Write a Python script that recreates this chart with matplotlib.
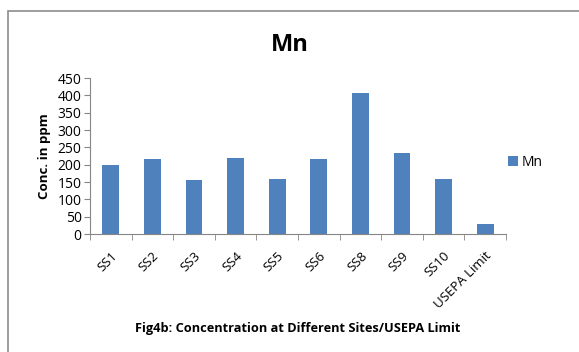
import matplotlib
matplotlib.use('Agg')
import matplotlib.pyplot as plt
import numpy as np
from matplotlib.patches import Rectangle

sites = ['SS1', 'SS2', 'SS3', 'SS4', 'SS5', 'SS6', 'SS8', 'SS9', 'SS10', 'USEPA Limit']
mn = [198, 217, 156, 219, 158, 217, 406, 234, 160, 28]
yticks = [0, 50, 100, 150, 200, 250, 300, 350, 400, 450]

plt.rcParams['font.family'] = ['Open Sans', 'DejaVu Sans']

fig = plt.figure(figsize=(5.79, 3.52), dpi=100)
ax = fig.add_axes([0.1554, 0.3352, 0.7185, 0.4432])

x = np.arange(len(sites))
ax.bar(x, mn, width=0.4, color='#4F81BD', label='Mn')

ax.set_xlim(-0.5, len(sites) - 0.5)
ax.set_ylim(0, 450)
ax.set_yticks(yticks)
ax.set_xticks(x)
ax.set_xticklabels(sites, rotation=45, ha='right', rotation_mode='anchor', fontsize=9.5)
ax.set_xticks(np.arange(-0.5, len(sites)), minor=True)
ax.tick_params(axis='x', which='major', length=0, pad=11)
ax.tick_params(axis='x', which='minor', length=4, color='#868686')
ax.tick_params(axis='y', length=4, color='#868686', labelsize=10, pad=2)

for s in ['top', 'right']:
    ax.spines[s].set_visible(False)
for s in ['left', 'bottom']:
    ax.spines[s].set_color('#868686')

ax.set_ylabel('Conc. in ppm', fontsize=9.5, fontweight='bold', labelpad=5)
fig.text(0.50, 0.872, 'Mn', fontsize=17, fontweight='bold', ha='center', va='center')
fig.text(0.515, 0.068, 'Fig4b: Concentration at Different Sites/USEPA Limit',
         fontsize=9.2, fontweight='bold', ha='center', va='center')

ax.legend(loc='center left', bbox_to_anchor=(0.975, 0.46), frameon=False,
          fontsize=10, handlelength=0.7, handleheight=0.7, handletextpad=0.3)

fig.patches.append(Rectangle((8 / 579, -0.1), 1.2, 1 - 11.5 / 352 + 0.1,
                             transform=fig.transFigure, fill=False,
                             edgecolor='#8c8c8c', linewidth=1.2))

fig.savefig('out.png', dpi=100)
